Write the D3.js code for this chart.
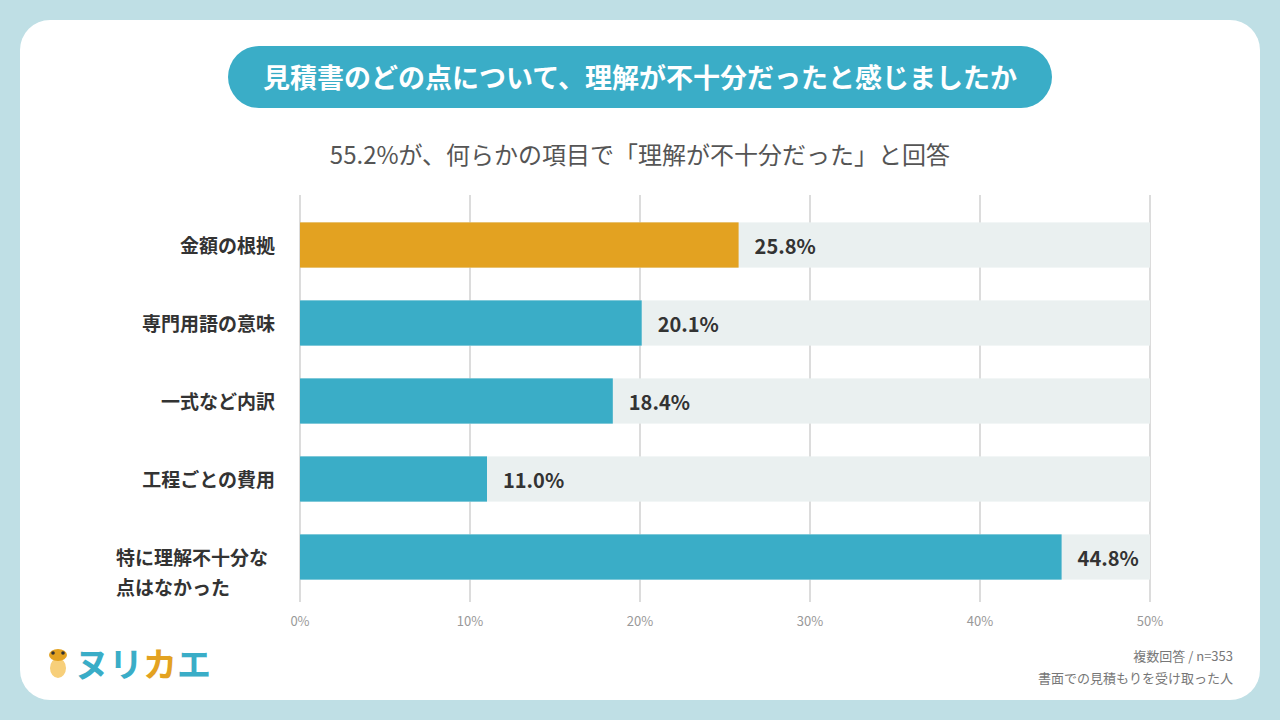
<!DOCTYPE html>
<html><head><meta charset="utf-8">
<script src="https://cdn.jsdelivr.net/npm/d3@7"></script>
<style>body{margin:0;background:#bfdfe5;font-family:"Noto Sans CJK JP","Noto Sans",sans-serif;}</style>
</head><body>
<script>
// Data
const categories = ["金額の根拠", "専門用語の意味", "一式など内訳", "工程ごとの費用", "特に理解不十分な\n点はなかった"];
const values = [25.8, 20.1, 18.4, 11.0, 44.8];
const highlight = [true, false, false, false, false];
const ticks = [0, 10, 20, 30, 40, 50];

const svg = d3.select("body").append("svg").attr("width", 1280).attr("height", 720);
svg.append("rect").attr("width", 1280).attr("height", 720).attr("fill", "#bfdfe5");
svg.append("rect").attr("x", 20).attr("y", 20).attr("width", 1240).attr("height", 680)
  .attr("rx", 30).attr("fill", "#fff");

// Title pill
svg.append("rect").attr("x", 228).attr("y", 46).attr("width", 824).attr("height", 62)
  .attr("rx", 31).attr("fill", "#3aadc7");
svg.append("text").attr("x", 640).attr("y", 88).attr("text-anchor", "middle")
  .attr("font-size", 27).attr("font-weight", 700).attr("fill", "#fff")
  .text("見積書のどの点について、理解が不十分だったと感じましたか");
svg.append("text").attr("x", 640).attr("y", 164).attr("text-anchor", "middle")
  .attr("font-size", 24).attr("fill", "#555")
  .text("55.2%が、何らかの項目で「理解が不十分だった」と回答");

const x = d3.scaleLinear().domain([0, 50]).range([300, 1150]);
const y = d3.scaleBand().domain(categories).range([206, 596]).paddingInner(0.42).paddingOuter(0.21);

// Grid
svg.append("g").selectAll("line").data(ticks).join("line")
  .attr("x1", d => x(d)).attr("x2", d => x(d)).attr("y1", 195).attr("y2", 602)
  .attr("stroke", "#dcdcdc").attr("stroke-width", 2);

// Track + bars
svg.append("g").selectAll("rect").data(categories).join("rect")
  .attr("x", x(0)).attr("y", d => y(d)).attr("width", x(50) - x(0)).attr("height", y.bandwidth())
  .attr("fill", "#eaf0f0");
svg.append("g").selectAll("rect").data(values).join("rect")
  .attr("x", x(0)).attr("y", (d, i) => y(categories[i])).attr("width", d => x(d) - x(0))
  .attr("height", y.bandwidth()).attr("fill", (d, i) => highlight[i] ? "#e3a221" : "#3aadc7");

// Value labels
svg.append("g").selectAll("text").data(values).join("text")
  .attr("x", d => x(d) + 16).attr("y", (d, i) => y(categories[i]) + y.bandwidth() / 2 + 9)
  .attr("font-size", 20).attr("font-weight", 700).attr("fill", "#333")
  .text(d => d.toFixed(1) + "%");

// Category labels
const cl = svg.append("g").selectAll("text").data(categories).join("text")
  .attr("text-anchor", "end").attr("font-size", 19).attr("font-weight", 700).attr("fill", "#333");
cl.each(function (d) {
  const lines = d.split("\n");
  const t = d3.select(this);
  const cy = y(d) + y.bandwidth() / 2 + 8;
  lines.forEach((l, k) => {
    t.append("tspan").attr("x", 275).attr("y", cy + k * 30).text(l);
  });
});
cl.filter(d => d.includes("\n")).attr("text-anchor", "start").selectAll("tspan").attr("x", 116);

// X axis labels
svg.append("g").selectAll("text").data(ticks).join("text")
  .attr("x", d => x(d)).attr("y", 626).attr("text-anchor", "middle")
  .attr("font-size", 13).attr("fill", "#999").text(d => d + "%");

// Notes
svg.append("text").attr("x", 1233).attr("y", 661).attr("text-anchor", "end")
  .attr("font-size", 13).attr("fill", "#777").text("複数回答 / n=353");
svg.append("text").attr("x", 1233).attr("y", 683).attr("text-anchor", "end")
  .attr("font-size", 13).attr("fill", "#777").text("書面での見積もりを受け取った人");

// Logo
const lg = svg.append("g");
lg.append("ellipse").attr("cx", 58).attr("cy", 668).attr("rx", 8).attr("ry", 10).attr("fill", "#f7cf7a");
lg.append("ellipse").attr("cx", 58).attr("cy", 655).attr("rx", 9).attr("ry", 6).attr("fill", "#e3a221");
lg.append("circle").attr("cx", 53).attr("cy", 653).attr("r", 1.8).attr("fill", "#333");
lg.append("circle").attr("cx", 63).attr("cy", 653).attr("r", 1.8).attr("fill", "#333");
const logo = lg.append("text").attr("x", 75).attr("y", 677).attr("font-size", 34).attr("font-weight", 700);
[["ヌ", "#3aadc7"], ["リ", "#3aadc7"], ["カ", "#e3a221"], ["エ", "#3aadc7"]].forEach(([c, f]) =>
  logo.append("tspan").attr("fill", f).text(c));
</script>
</body></html>
